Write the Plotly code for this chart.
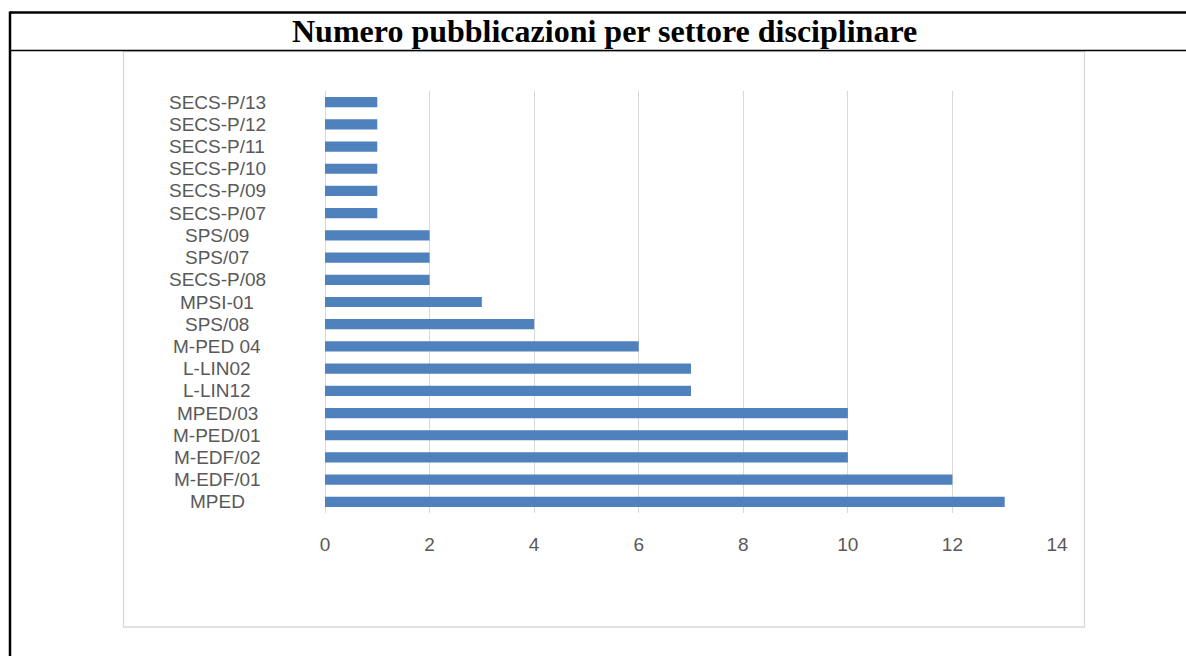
import plotly.graph_objects as go

# Publications per disciplinary sector (bottom to top as drawn)
settori = ["MPED", "M-EDF/01", "M-EDF/02", "M-PED/01", "MPED/03", "L-LIN12",
           "L-LIN02", "M-PED 04", "SPS/08", "MPSI-01", "SECS-P/08", "SPS/07",
           "SPS/09", "SECS-P/07", "SECS-P/09", "SECS-P/10", "SECS-P/11",
           "SECS-P/12", "SECS-P/13"]
pubblicazioni = [13, 12, 10, 10, 10, 7, 7, 6, 4, 3, 2, 2, 2, 1, 1, 1, 1, 1, 1]
tick_x = [0, 2, 4, 6, 8, 10, 12, 14]
titolo = "Numero pubblicazioni per settore disciplinare"

W, H = 1186, 656
L, R, T, B = 325, 1057, 91, 513  # plot area in pixels

def px(x):
    return (x - L) / (R - L)

def py(y):
    return (B - y) / (B - T)

fig = go.Figure(go.Bar(
    x=pubblicazioni, y=settori, orientation="h",
    marker=dict(color="#4F81BD", line=dict(width=0)),
    hoverinfo="x+y",
))

label_font = dict(family="Liberation Sans", size=19, color="#595959")

# Category labels centred in a column left of the bars
annotations = [
    dict(x=px(217), y=s, xref="paper", yref="y", text=s, showarrow=False,
         xanchor="center", yanchor="middle", font=label_font)
    for s in settori
]
annotations.append(dict(
    x=px(604), y=py(31), xref="paper", yref="paper", text="<b>" + titolo + "</b>",
    showarrow=False, xanchor="center", yanchor="middle",
    font=dict(family="Liberation Serif", size=32, color="#000000"),
))

shapes = [
    # table frame
    dict(type="line", xref="paper", yref="paper", x0=px(10), x1=px(W + 5),
         y0=py(12.5), y1=py(12.5), line=dict(color="#000000", width=2.5)),
    dict(type="line", xref="paper", yref="paper", x0=px(10), x1=px(W + 5),
         y0=py(50.5), y1=py(50.5), line=dict(color="#000000", width=1.3)),
    dict(type="line", xref="paper", yref="paper", x0=px(10), x1=px(10),
         y0=py(11.5), y1=py(H + 5), line=dict(color="#000000", width=2.5)),
    # chart area border
    dict(type="rect", xref="paper", yref="paper", x0=px(123.5), x1=px(1084.5),
         y0=py(51.5), y1=py(627), line=dict(color="#D9D9D9", width=1.3),
         layer="below"),
]

fig.update_layout(
    width=W, height=H,
    margin=dict(l=L, r=W - R, t=T, b=H - B),
    paper_bgcolor="#FFFFFF", plot_bgcolor="#FFFFFF",
    showlegend=False, bargap=0.54,
    annotations=annotations, shapes=shapes,
    xaxis=dict(range=[0, 14], tickvals=tick_x, showgrid=True,
               gridcolor="#D9D9D9", gridwidth=1, zeroline=True,
               zerolinecolor="#D9D9D9", zerolinewidth=1, showline=False,
               tickfont=dict(family="Liberation Sans", size=19, color="#595959"),
               ticks="", ticklabelstandoff=18, fixedrange=True),
    yaxis=dict(categoryorder="array", categoryarray=settori,
               showticklabels=False, showgrid=False, ticks="",
               range=[-0.5, len(settori) - 0.5], fixedrange=True),
)

fig.write_html("out.html")
